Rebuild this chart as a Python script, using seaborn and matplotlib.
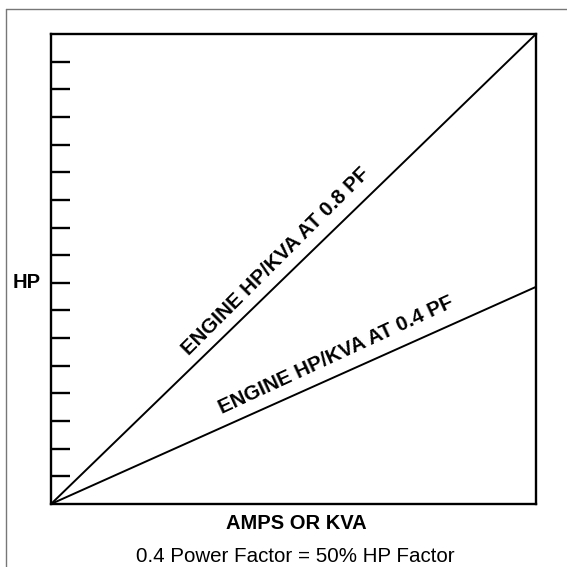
import numpy as np
import pandas as pd
import matplotlib.pyplot as plt
import seaborn as sns
from matplotlib.lines import Line2D

# Chart data (relative units, axes run 0..1)
amps = [0.0, 1.0]
hp_08 = [0.0, 1.0]
hp_04 = [0.0, 0.462]
curve_labels = ["ENGINE HP/KVA AT 0.8 PF", "ENGINE HP/KVA AT 0.4 PF"]
label_pos = [0.478, 0.595]        # where along each line the label sits
tick_vals = [i / 17 for i in range(1, 17)]
hp_tick = 8 / 17

sns.set_style("white")
plt.rcParams['font.family'] = ['Liberation Sans', 'DejaVu Sans']
plt.rcParams['text.color'] = 'black'

df = pd.DataFrame({
    'amps': amps + amps,
    'hp': hp_08 + hp_04,
    'curve': [curve_labels[0]] * 2 + [curve_labels[1]] * 2,
})

fig = plt.figure(figsize=(5.67, 5.67), dpi=100)
ax = fig.add_axes([51 / 567, 1 - 504 / 567, 485 / 567, 470 / 567])

sns.lineplot(data=df, x='amps', y='hp', hue='curve', palette=['black', 'black'],
             linewidth=1.4, legend=False, ax=ax)

ax.set_xlim(0, 1)
ax.set_ylim(0, 1)
for s in ax.spines.values():
    s.set_visible(True)
    s.set_color('black')
    s.set_linewidth(1.7)

ax.set_xticks([])
ax.set_yticks(tick_vals)
ax.set_yticklabels([])
ax.tick_params(axis='y', direction='in', length=14, width=1.7, color='black', left=True)
ax.set_xlabel('')
ax.set_ylabel('')

# HP label beside the middle tick
ax.text(-0.021, hp_tick, 'HP', transform=ax.transAxes, ha='right', va='center',
        fontsize=14.5, fontweight='bold', color='black')

# curve labels along the lines
for lab, ys, t in zip(curve_labels, [hp_08, hp_04], label_pos):
    slope = ys[1] / amps[1]
    ang = np.degrees(np.arctan2(slope, 1))
    ax.annotate(lab, xy=(t, slope * t), xytext=(0, 8), textcoords='offset points',
                ha='center', va='bottom', rotation=ang, rotation_mode='anchor',
                transform_rotates_text=True, fontsize=14.8, fontweight='bold',
                color='black')

fig.text(296 / 567, 1 - 529 / 567, 'AMPS OR KVA', ha='center', va='baseline',
         fontsize=14.5, fontweight='bold', color='black')
fig.text(295 / 567, 1 - 562 / 567, '0.4 Power Factor = 50% HP Factor', ha='center',
         va='baseline', fontsize=14.8, color='black')

# thin gray frame on the left and top
fig.add_artist(Line2D([6 / 567, 6 / 567], [0, 1 - 9 / 567], color='#777777', linewidth=1))
fig.add_artist(Line2D([6 / 567, 1], [1 - 9 / 567, 1 - 9 / 567], color='#777777', linewidth=1))

fig.savefig('out.png', dpi=100)
